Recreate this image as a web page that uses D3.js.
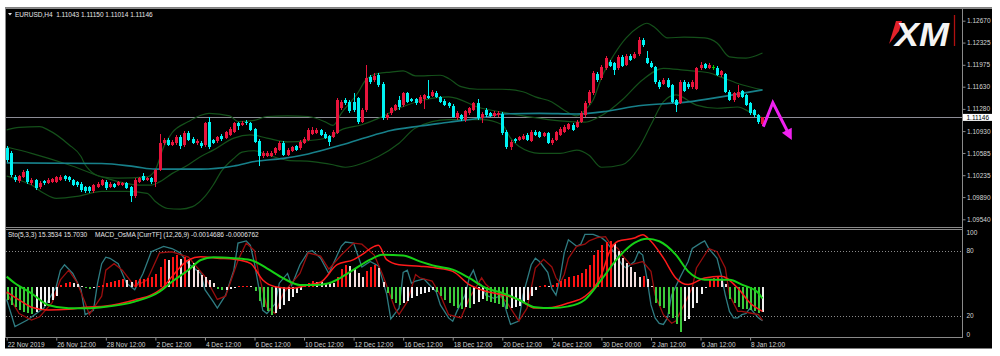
<!DOCTYPE html>
<html><head><meta charset="utf-8">
<script src="https://cdn.jsdelivr.net/npm/d3@7"></script>
<style>html,body{margin:0;padding:0;background:#fff;}svg{display:block;}</style>
</head><body><svg id="c" width="1000" height="356"></svg>
<script>
// ---------------- DATA ----------------
const symbolTitle = "EURUSD,H4  1.11043 1.11150 1.11014 1.11146";
const lastPrice = 1.11146;
const opens = [1.1066,1.1059,1.1021,1.1014,1.1021,1.1030,1.1011,1.1016,1.1005,1.1014,
1.1011,1.1013,1.1013,1.1016,1.1022,1.1020,1.1016,1.1013,1.1010,1.1005,
1.1005,1.0999,1.1005,1.1008,1.1013,1.1005,1.1009,1.1008,1.1008,1.1011,
1.1005,1.0990,1.1013,1.1022,1.1016,1.1019,1.1013,1.1032,1.1074,1.1079,
1.1071,1.1074,1.1084,1.1071,1.1090,1.1081,1.1074,1.1075,1.1071,1.1108,
1.1079,1.1078,1.1086,1.1082,1.1087,1.1092,1.1105,1.1103,1.1108,1.1106,
1.1096,1.1078,1.1053,1.1054,1.1054,1.1058,1.1063,1.1075,1.1055,1.1062,
1.1069,1.1066,1.1075,1.1079,1.1089,1.1090,1.1095,1.1089,1.1085,1.1084,
1.1090,1.1129,1.1142,1.1139,1.1139,1.1145,1.1108,1.1126,1.1178,1.1174,
1.1181,1.1168,1.1113,1.1122,1.1127,1.1142,1.1134,1.1153,1.1143,1.1143,
1.1138,1.1143,1.1149,1.1148,1.1153,1.1147,1.1141,1.1137,1.1133,1.1114,
1.1118,1.1111,1.1121,1.1127,1.1137,1.1114,1.1126,1.1121,1.1117,1.1118,
1.1120,1.1092,1.1068,1.1080,1.1079,1.1081,1.1087,1.1078,1.1092,1.1091,
1.1086,1.1090,1.1074,1.1079,1.1087,1.1092,1.1097,1.1103,1.1100,1.1108,
1.1118,1.1137,1.1153,1.1183,1.1176,1.1192,1.1202,1.1200,1.1192,1.1210,
1.1197,1.1212,1.1208,1.1214,1.1237,1.1209,1.1201,1.1194,1.1171,1.1168,
1.1174,1.1166,1.1142,1.1138,1.1171,1.1168,1.1163,1.1160,1.1192,1.1198,
1.1193,1.1194,1.1193,1.1182,1.1183,1.1155,1.1142,1.1147,1.1156,1.1150,
1.1137,1.1126,1.1118,1.11043];
const highs = [1.1069,1.1061,1.1024,1.1024,1.1031,1.1033,1.1019,1.1018,1.1014,1.1016,
1.1019,1.1019,1.1023,1.1024,1.1024,1.1022,1.1018,1.1015,1.1012,1.1007,
1.1007,1.1010,1.1012,1.1018,1.1016,1.1012,1.1011,1.1014,1.1013,1.1013,
1.1007,1.1019,1.1021,1.1027,1.1021,1.1021,1.1034,1.1089,1.1082,1.1082,
1.1079,1.1087,1.1087,1.1093,1.1093,1.1083,1.1080,1.1078,1.1108,1.1115,
1.1081,1.1086,1.1088,1.1093,1.1100,1.1108,1.1107,1.1109,1.1110,1.1108,
1.1098,1.1080,1.1061,1.1061,1.1061,1.1068,1.1078,1.1078,1.1066,1.1070,
1.1071,1.1079,1.1083,1.1098,1.1100,1.1098,1.1097,1.1091,1.1087,1.1095,
1.1145,1.1142,1.1145,1.1142,1.1153,1.1147,1.1129,1.1197,1.1181,1.1184,
1.1184,1.1171,1.1121,1.1131,1.1136,1.1148,1.1155,1.1155,1.1145,1.1145,
1.1150,1.1152,1.1174,1.1158,1.1156,1.1149,1.1143,1.1139,1.1135,1.1124,
1.1120,1.1126,1.1131,1.1139,1.1144,1.1123,1.1129,1.1123,1.1124,1.1125,
1.1123,1.1094,1.1079,1.1082,1.1086,1.1089,1.1090,1.1095,1.1094,1.1093,
1.1092,1.1092,1.1082,1.1093,1.1100,1.1102,1.1106,1.1105,1.1110,1.1124,
1.1141,1.1157,1.1187,1.1186,1.1197,1.1212,1.1205,1.1202,1.1213,1.1213,
1.1215,1.1214,1.1217,1.1242,1.1240,1.1220,1.1203,1.1196,1.1173,1.1176,
1.1176,1.1168,1.1144,1.1173,1.1173,1.1170,1.1173,1.1194,1.1202,1.1201,
1.1200,1.1197,1.1196,1.1190,1.1185,1.1157,1.1155,1.1166,1.1158,1.1152,
1.1139,1.1128,1.1120,1.11150];
const lows = [1.1044,1.1021,1.1013,1.1011,1.1019,1.1010,1.1008,1.1000,1.1002,1.1008,
1.1009,1.1011,1.1011,1.1014,1.1015,1.1013,1.1006,1.1005,1.0997,1.0996,
1.0995,1.0996,1.1003,1.1006,1.1000,1.1003,1.1003,1.1006,1.1006,1.1001,
1.0981,1.0987,1.1011,1.1014,1.1014,1.1010,1.1005,1.1030,1.1071,1.1069,
1.1069,1.1071,1.1065,1.1068,1.1077,1.1073,1.1071,1.1067,1.1068,1.1065,
1.1072,1.1075,1.1078,1.1080,1.1085,1.1090,1.1095,1.1101,1.1103,1.1093,
1.1074,1.1038,1.1050,1.1052,1.1052,1.1056,1.1061,1.1053,1.1053,1.1060,
1.1062,1.1064,1.1073,1.1077,1.1087,1.1088,1.1085,1.1080,1.1069,1.1082,
1.1088,1.1126,1.1134,1.1122,1.1123,1.1104,1.1105,1.1123,1.1168,1.1171,
1.1163,1.1110,1.1110,1.1119,1.1125,1.1126,1.1131,1.1137,1.1139,1.1134,
1.1136,1.1128,1.1143,1.1146,1.1145,1.1137,1.1132,1.1129,1.1113,1.1111,
1.1109,1.1108,1.1119,1.1125,1.1110,1.1105,1.1116,1.1115,1.1115,1.1116,
1.1087,1.1065,1.1064,1.1074,1.1077,1.1079,1.1077,1.1076,1.1085,1.1082,
1.1084,1.1072,1.1071,1.1077,1.1085,1.1090,1.1095,1.1093,1.1098,1.1105,
1.1116,1.1134,1.1150,1.1171,1.1173,1.1190,1.1194,1.1181,1.1189,1.1194,
1.1195,1.1203,1.1206,1.1212,1.1226,1.1199,1.1192,1.1168,1.1160,1.1166,
1.1161,1.1137,1.1123,1.1135,1.1154,1.1160,1.1160,1.1158,1.1190,1.1191,
1.1191,1.1190,1.1180,1.1179,1.1153,1.1140,1.1139,1.1145,1.1145,1.1132,
1.1118,1.1116,1.1104,1.11014];
const closes = [1.1047,1.1024,1.1016,1.1022,1.1029,1.1013,1.1016,1.1003,1.1011,1.1011,
1.1016,1.1017,1.1021,1.1020,1.1017,1.1016,1.1008,1.1008,1.1000,1.0999,
1.0998,1.1008,1.1009,1.1016,1.1003,1.1010,1.1005,1.1012,1.1011,1.1003,
1.0990,1.1016,1.1019,1.1016,1.1019,1.1012,1.1032,1.1074,1.1079,1.1071,
1.1076,1.1084,1.1069,1.1090,1.1079,1.1075,1.1078,1.1069,1.1105,1.1068,
1.1075,1.1083,1.1081,1.1091,1.1097,1.1105,1.1101,1.1106,1.1105,1.1095,
1.1076,1.1053,1.1059,1.1058,1.1059,1.1066,1.1075,1.1055,1.1064,1.1068,
1.1064,1.1076,1.1081,1.1095,1.1095,1.1095,1.1087,1.1082,1.1076,1.1092,
1.1142,1.1139,1.1137,1.1125,1.1126,1.1108,1.1126,1.1176,1.1171,1.1180,
1.1166,1.1113,1.1118,1.1129,1.1134,1.1131,1.1153,1.1139,1.1141,1.1137,
1.1147,1.1150,1.1145,1.1155,1.1147,1.1139,1.1134,1.1132,1.1116,1.1121,
1.1112,1.1124,1.1129,1.1137,1.1113,1.1120,1.1118,1.1117,1.1121,1.1122,
1.1090,1.1068,1.1076,1.1077,1.1083,1.1086,1.1079,1.1092,1.1087,1.1084,
1.1090,1.1074,1.1079,1.1091,1.1097,1.1100,1.1104,1.1095,1.1108,1.1121,
1.1138,1.1154,1.1184,1.1174,1.1194,1.1209,1.1196,1.1189,1.1210,1.1196,
1.1212,1.1205,1.1214,1.1237,1.1228,1.1201,1.1194,1.1171,1.1163,1.1174,
1.1163,1.1139,1.1134,1.1171,1.1156,1.1163,1.1171,1.1192,1.1197,1.1193,
1.1197,1.1194,1.1182,1.1187,1.1155,1.1142,1.1153,1.1155,1.1147,1.1134,
1.1121,1.1118,1.1108,1.11146];

// Bollinger bands and moving average: [bar index, price] read at sample bars
const bbUpper = [[0,1.1095],[3,1.1099],[8,1.1100],[10,1.1095],[15,1.1072],[18,1.1053],[19,1.1040],[20,1.1032],[23,1.1021],[27,1.1019],[34,1.1021],[36,1.1032],[38,1.1068],[40,1.1090],[44,1.1108],[47,1.1118],[49,1.1121],[54,1.1117],[56,1.1108],[60,1.1110],[63,1.1116],[68,1.1117],[73,1.1116],[77,1.1108],[79,1.1102],[81,1.1121],[85,1.1153],[87,1.1174],[90,1.1184],[93,1.1186],[96,1.1188],[99,1.1180],[105,1.1181],[107,1.1176],[110,1.1163],[114,1.1159],[120,1.1159],[125,1.1155],[128,1.1147],[132,1.1139],[135,1.1126],[138,1.1117],[140,1.1126],[142,1.1142],[144,1.1177],[147,1.1213],[150,1.1240],[153,1.1257],[155,1.1263],[157,1.1256],[160,1.1240],[164,1.1241],[169,1.1240],[172,1.1232],[175,1.1210],[179,1.1208],[183,1.1216]];
const bbMiddle = [[0,1.1068],[6,1.1058],[15,1.1040],[23,1.1021],[32,1.1008],[35,1.1008],[37,1.1013],[40,1.1026],[44,1.1040],[47,1.1053],[50,1.1063],[55,1.1082],[59,1.1087],[63,1.1082],[68,1.1076],[73,1.1078],[78,1.1083],[81,1.1095],[86,1.1103],[90,1.1113],[95,1.1129],[101,1.1142],[107,1.1147],[115,1.1129],[120,1.1123],[127,1.1115],[134,1.1109],[140,1.1107],[143,1.1114],[146,1.1126],[149,1.1142],[154,1.1174],[159,1.1192],[164,1.1189],[170,1.1185],[173,1.1178],[178,1.1166],[183,1.1158]];
const bbLower = [[0,1.1022],[3,1.1016],[6,1.1008],[9,1.0995],[12,1.0987],[17,1.0990],[23,1.0998],[29,1.0998],[34,1.0995],[36,1.0982],[39,1.0971],[42,1.0970],[45,1.0974],[48,1.0990],[50,1.1008],[52,1.1030],[55,1.1050],[57,1.1060],[60,1.1062],[63,1.1056],[68,1.1047],[74,1.1045],[79,1.1040],[82,1.1036],[86,1.1042],[90,1.1053],[95,1.1074],[99,1.1098],[107,1.1111],[115,1.1111],[120,1.1103],[122,1.1082],[124,1.1069],[129,1.1058],[134,1.1058],[138,1.1063],[141,1.1055],[144,1.1036],[149,1.1040],[153,1.1066],[156,1.1103],[159,1.1139],[162,1.1150],[167,1.1134],[172,1.1129],[177,1.1131],[180,1.1123],[183,1.1114]];
const maLine = [[0,1.1043],[23,1.1042],[31,1.1037],[36,1.1033],[47,1.1033],[55,1.1038],[60,1.1045],[67,1.1050],[73,1.1057],[81,1.1071],[89,1.1087],[93,1.1094],[100,1.1101],[107,1.1107],[115,1.1114],[120,1.1120],[129,1.1121],[138,1.1120],[145,1.1124],[153,1.1133],[165,1.1139],[173,1.1147],[183,1.1158]];

// Stochastic (5,3,3): [bar index, value]
const stochMain = [[0,35],[2,10],[5,16],[9,27],[12,47],[13,62],[14,67],[16,59],[18,44],[19,21],[21,25],[22,50],[23,68],[24,74],[25,73],[27,68],[29,50],[31,44],[33,59],[35,79],[38,84],[40,82],[42,78],[44,68],[47,59],[48,44],[50,33],[51,27],[53,39],[55,62],[56,87],[58,89],[59,85],[60,68],[61,47],[62,25],[63,22],[65,31],[66,50],[68,59],[69,48],[71,67],[73,79],[74,80],[76,73],[78,59],[81,84],[82,88],[84,87],[86,65],[88,70],[90,66],[92,40],[93,17],[95,27],[96,60],[97,62],[98,50],[99,52],[101,54],[102,50],[104,42],[105,30],[107,18],[108,15],[109,24],[111,39],[112,55],[113,62],[114,51],[115,48],[116,39],[118,36],[120,39],[121,24],[122,12],[124,15],[125,39],[127,67],[128,73],[129,70],[131,60],[132,45],[133,39],[134,55],[135,78],[136,90],[138,84],[139,86],[140,95],[142,95],[144,92],[145,89],[147,79],[148,73],[149,67],[150,64],[152,70],[153,79],[154,76],[155,55],[156,30],[157,18],[158,13],[159,12],[160,18],[161,39],[163,55],[165,70],[166,82],[168,87],[169,89],[170,82],[172,73],[173,58],[174,39],[175,24],[176,18],[177,18],[178,21],[179,22],[180,27],[182,18],[183,15.3534]];
const stochSignal = [[0,41],[3,22],[6,16],[8,19],[11,32],[13,53],[15,62],[17,51],[19,32],[20,21],[23,38],[24,62],[26,68],[28,62],[31,47],[34,53],[37,78],[40,79],[44,74],[46,65],[48,56],[51,35],[53,38],[56,71],[58,87],[60,80],[61,59],[63,28],[65,22],[67,41],[69,50],[71,59],[73,78],[76,75],[78,63],[81,76],[84,87],[86,86],[89,76],[91,58],[94,27],[95,21],[97,33],[99,58],[100,55],[103,52],[105,39],[107,21],[110,18],[112,36],[115,55],[116,49],[119,39],[121,33],[123,21],[124,15],[126,27],[128,64],[130,72],[132,65],[133,55],[134,50],[135,58],[136,73],[138,84],[140,86],[141,89],[143,92],[145,93],[146,87],[148,82],[149,76],[151,67],[153,69],[154,70],[156,61],[157,39],[159,21],[161,13],[162,15],[164,30],[166,46],[167,64],[169,76],[170,82],[172,79],[174,64],[175,39],[177,24],[178,24],[180,22.5],[182,21],[183,15.703]];

// MACD_OsMA (12,26,9): histogram per bar, plus two lines [bar index, value]
const macdHist = [-0.00076,-0.00106,-0.00118,-0.00135,-0.00147,-0.00153,-0.00159,-0.00147,-0.00129,-0.00112,
-0.00094,-0.00076,-0.00053,0.00012,0.00024,0.00029,0.00024,0.00018,0.00006,-0.00006,
-0.00012,-0.00006,0.00006,0.00012,0.00024,0.00029,0.00035,0.00041,0.00047,0.00041,
0.00029,0.00041,0.00047,0.00050,0.00053,0.00059,0.00076,0.00118,0.00165,0.00159,
0.00176,0.00188,0.00165,0.00176,0.00165,0.00141,0.00100,0.00071,0.00059,0.00041,
0.00024,-0.00012,-0.00018,-0.00015,-0.00012,-0.00006,0.00003,0.00006,0.00007,0.00003,
-0.00024,-0.00082,-0.00118,-0.00141,-0.00165,-0.00153,-0.00129,-0.00106,-0.00082,-0.00059,
-0.00035,-0.00018,0.00006,0.00024,0.00035,0.00032,0.00029,0.00026,0.00024,0.00021,
0.00059,0.00106,0.00129,0.00123,0.00106,0.00082,0.00059,0.00094,0.00118,0.00129,
0.00112,0.00029,-0.00035,-0.00071,-0.00094,-0.00106,-0.00094,-0.00082,-0.00065,-0.00053,
-0.00041,-0.00035,-0.00029,-0.00018,-0.00029,-0.00053,-0.00076,-0.00094,-0.00112,-0.00123,
-0.00129,-0.00118,-0.00123,-0.00100,-0.00088,-0.00071,-0.00082,-0.00088,-0.00094,-0.00100,
-0.00118,-0.00129,-0.00123,-0.00118,-0.00112,-0.00094,-0.00076,-0.00053,-0.00018,0.00006,
0.00012,0.00006,0.00012,0.00024,0.00035,0.00047,0.00059,0.00065,0.00071,0.00082,
0.00106,0.00129,0.00188,0.00218,0.00247,0.00265,0.00270,0.00259,0.00212,0.00171,
0.00141,0.00118,0.00088,0.00059,0.00065,0.00047,0.00006,-0.00094,-0.00112,-0.00123,
-0.00159,-0.00182,-0.00218,-0.00265,-0.00200,-0.00188,-0.00123,-0.00094,-0.00041,-0.00006,
0.00047,0.00053,0.00056,0.00041,0.00018,-0.00071,-0.00094,-0.00118,-0.00129,-0.00132,
-0.00135,-0.00141,-0.00153,-0.0014686];
const macdLine = [[0,-0.00028],[3,-0.00076],[6,-0.00119],[10,-0.00135],[15,-0.00131],[19,-0.00119],[24,-0.00112],[31,-0.00076],[35,-0.00047],[38,0.00002],[40,0.00061],[44,0.00159],[47,0.00178],[51,0.00169],[55,0.00163],[59,0.00139],[62,0.00041],[65,0.00002],[69,-0.00008],[73,0.00012],[76,0.00028],[80,0.00131],[84,0.00161],[86,0.00190],[89,0.00239],[90,0.00245],[92,0.00161],[95,0.00131],[100,0.00122],[104,0.00112],[108,0.00092],[112,0.00014],[116,-0.00025],[120,-0.00045],[124,-0.00075],[128,-0.00124],[132,-0.00120],[136,-0.00094],[140,-0.00055],[144,0.00072],[146,0.00210],[148,0.00269],[152,0.00288],[154,0.00308],[156,0.00269],[159,0.00171],[162,0.00053],[165,0.00014],[169,0.00053],[173,0.00063],[177,-0.00006],[180,-0.00094],[183,-0.00143]];
const macdSignal = [[0,0.00061],[2,0.00022],[6,-0.00037],[10,-0.00106],[15,-0.00125],[19,-0.00125],[24,-0.00116],[31,-0.00086],[37,-0.00028],[40,0.00031],[44,0.00100],[47,0.00159],[50,0.00175],[55,0.00169],[59,0.00159],[63,0.00110],[67,0.00051],[71,0.00012],[75,0.00012],[78,0.00022],[80,0.00043],[84,0.00102],[88,0.00161],[91,0.00190],[96,0.00186],[100,0.00151],[104,0.00122],[108,0.00102],[112,0.00053],[116,-0.00006],[120,-0.00035],[124,-0.00075],[128,-0.00119],[132,-0.00124],[136,-0.00114],[140,-0.00075],[144,0.00043],[148,0.00171],[152,0.00259],[155,0.00284],[158,0.00269],[162,0.00190],[165,0.00092],[169,0.00043],[172,0.00043],[175,0.00043],[178,0.00014],[182,-0.00035],[183,-0.00068]];

// axes
const priceTicks = [1.12670,1.12325,1.11975,1.11630,1.11280,1.10930,1.10585,1.10235,1.09890,1.09540];
const stochTicks = [100,80,20,0];
const stochLevels = [80,20];
const timeTickBars = [0,12,24,36,48,60,72,84,96,108,120,132,144,156,168,180];
const timeLabels = ["22 Nov 2019","26 Nov 12:00","28 Nov 12:00","2 Dec 12:00","4 Dec 12:00","6 Dec 12:00","10 Dec 12:00","12 Dec 12:00","16 Dec 12:00","18 Dec 12:00","20 Dec 12:00","24 Dec 12:00","30 Dec 00:00","2 Jan 12:00","6 Jan 12:00","8 Jan 12:00"];
const stochLabel = "Sto(5,3,3) 15.3534 15.7030";
const macdLabel = "MACD_OsMA [CurrTF] (12,26,9) -0.0014686 -0.0006762";
// drawn annotation arrow: bar index / price
const arrowBars = [183.2, 185.5, 190.1];
const arrowPrices = [1.1100, 1.1138, 1.1079];

// ---------------- DRAWING ----------------
const FONT = "'Liberation Sans', Arial, sans-serif";
const svg = d3.select('#c');
const FRAME = '#8a8a8a';
const L = 5.5, R = 962.5, T = 8, P1B = 227.5, P2T = 229.5, P2B = 337.5;

const x = d3.scaleLinear().domain([0, 183]).range([6.7, 6.7 + 183 * 4.13]);
const yP = d3.scaleLinear().domain([1.09540, 1.12670]).range([219.3, 20.7]);
const yS = d3.scaleLinear().domain([0, 100]).range([337.4, 229]);
const yM = d3.scaleLinear().domain([-0.003, 0.003]).range([287 + 51, 287 - 51]);

svg.append('rect').attr('x', 5).attr('y', 7.5).attr('width', 987).attr('height', 341).attr('fill', '#000');

const defs = svg.append('defs');
defs.append('clipPath').attr('id', 'cp1').append('rect').attr('x', 6).attr('y', 8.5).attr('width', R - 6.5).attr('height', P1B - 9);
defs.append('clipPath').attr('id', 'cp2').append('rect').attr('x', 6).attr('y', P2T + 0.5).attr('width', R - 6.5).attr('height', P2B - P2T - 1);

// ---- price pane ----
const p1 = svg.append('g').attr('clip-path', 'url(#cp1)');
const lineP = d3.line().x(d => x(d[0])).y(d => yP(d[1])).curve(d3.curveMonotoneX);
p1.append('line').attr('x1', 6).attr('x2', R).attr('y1', Math.round(yP(lastPrice)) + 0.5).attr('y2', Math.round(yP(lastPrice)) + 0.5)
  .attr('stroke', '#8c8c96').attr('stroke-width', 1);
[bbUpper, bbMiddle, bbLower].forEach(s => p1.append('path').attr('d', lineP(s)).attr('fill', 'none').attr('stroke', '#14501a').attr('stroke-width', 1.2));
p1.append('path').attr('d', lineP(maLine)).attr('fill', 'none').attr('stroke', '#17808a').attr('stroke-width', 1.6);

const candles = d3.range(opens.length).map(i => ({i, o: opens[i], h: highs[i], l: lows[i], c: closes[i]}));
const col = d => d.c > d.o ? '#e8143c' : (d.c < d.o ? '#00f2f2' : '#00d000');
const cg = p1.append('g').attr('shape-rendering', 'crispEdges');
cg.selectAll('line.w').data(candles).join('line').attr('class', 'w')
  .attr('x1', d => Math.round(x(d.i)) + 0.5).attr('x2', d => Math.round(x(d.i)) + 0.5)
  .attr('y1', d => yP(d.h)).attr('y2', d => yP(d.l)).attr('stroke', col).attr('stroke-width', 1);
cg.selectAll('rect.b').data(candles).join('rect').attr('class', 'b')
  .attr('x', d => Math.round(x(d.i)) - 1).attr('width', 3)
  .attr('y', d => yP(Math.max(d.o, d.c)))
  .attr('height', d => Math.max(1, Math.abs(yP(d.o) - yP(d.c))))
  .attr('fill', col);

// magenta arrow annotation
const ap = arrowBars.map((b, k) => [x(b), yP(arrowPrices[k])]);
p1.append('path').attr('d', d3.line()(ap.slice(0, 2).concat([[ap[2][0] - 3, ap[2][1] - 6]]))).attr('fill', 'none')
  .attr('stroke', '#f020f0').attr('stroke-width', 3).attr('stroke-linejoin', 'miter').attr('stroke-miterlimit', 10);
{
  const [px, py] = ap[1], [ex, ey] = ap[2];
  const ang = Math.atan2(ey - py, ex - px), hl = 11, hw = 5.5;
  const bx = ex - hl * Math.cos(ang), by = ey - hl * Math.sin(ang);
  const nx = -Math.sin(ang) * hw, ny = Math.cos(ang) * hw;
  p1.append('polygon').attr('points', [[ex, ey], [bx + nx, by + ny], [bx - nx, by - ny]].map(p => p.join(',')).join(' ')).attr('fill', '#f020f0');
}

// XM logo
svg.append('polygon').attr('points', '889,44 896,21 902,21 899,31').attr('fill', '#e3222a');
svg.append('text').attr('x', 895).attr('y', 45.5).text('XM').attr('font-family', FONT).attr('font-weight', 'bold')
  .attr('font-style', 'italic').attr('font-size', 33).attr('fill', '#f4f4f4').attr('textLength', 54).attr('lengthAdjust', 'spacingAndGlyphs');
svg.append('line').attr('x1', 954.5).attr('x2', 954.5).attr('y1', 15).attr('y2', 46).attr('stroke', '#b01010').attr('stroke-width', 1.3);

// title
svg.append('path').attr('d', 'M8,13 L12,13 L10,15.5 Z').attr('fill', '#e6e6e6');
svg.append('text').attr('x', 15).attr('y', 16.5).text(symbolTitle).attr('font-family', FONT).attr('font-size', 6.5)
  .attr('fill', '#e6e6e6').style('white-space', 'pre');

// ---- indicator pane ----
const p2 = svg.append('g').attr('clip-path', 'url(#cp2)');
stochLevels.forEach(v => p2.append('line').attr('x1', 6).attr('x2', R).attr('y1', Math.round(yS(v)) + 0.5).attr('y2', Math.round(yS(v)) + 0.5)
  .attr('stroke', '#8a8a8a').attr('stroke-dasharray', '1,2'));
const lineS = d3.line().x(d => x(d[0])).y(d => yS(d[1]));
p2.append('path').attr('d', lineS(stochMain)).attr('fill', 'none').attr('stroke', '#2f7c82').attr('stroke-width', 1.3);
p2.append('path').attr('d', lineS(stochSignal)).attr('fill', 'none').attr('stroke', '#9a0e0e').attr('stroke-width', 1.3);

const hist = macdHist.map((v, i) => ({i, v, p: i > 0 ? macdHist[i - 1] : v}));
const hcol = d => d.v >= 0 ? (d.v >= d.p ? '#ff1414' : '#f3dede') : (d.v <= d.p ? '#3ccb3c' : '#f0f0f0');
p2.append('g').attr('shape-rendering', 'crispEdges').selectAll('rect').data(hist).join('rect')
  .attr('x', d => Math.round(x(d.i)) - 0.5).attr('width', 2)
  .attr('y', d => Math.min(yM(0), yM(d.v))).attr('height', d => Math.max(1, Math.abs(yM(d.v) - yM(0))))
  .attr('fill', hcol);
const lineM = d3.line().x(d => x(d[0])).y(d => yM(d[1])).curve(d3.curveMonotoneX);
p2.append('path').attr('d', lineM(macdLine)).attr('fill', 'none').attr('stroke', '#ff1a1a').attr('stroke-width', 1.5);
p2.append('path').attr('d', lineM(macdSignal)).attr('fill', 'none').attr('stroke', '#16d016').attr('stroke-width', 2);

svg.append('text').attr('x', 8).attr('y', 236.5).text(stochLabel).attr('font-family', FONT).attr('font-size', 6.5).attr('fill', '#e6e6e6');
svg.append('text').attr('x', 95).attr('y', 236.5).text(macdLabel).attr('font-family', FONT).attr('font-size', 6.5).attr('fill', '#e6e6e6');

// ---- frame ----
const fr = svg.append('g').attr('stroke', FRAME).attr('stroke-width', 1).attr('shape-rendering', 'crispEdges');
fr.append('line').attr('x1', 5).attr('x2', 992).attr('y1', T).attr('y2', T);
fr.append('line').attr('x1', L).attr('x2', L).attr('y1', T).attr('y2', P2B);
fr.append('line').attr('x1', R).attr('x2', R).attr('y1', T).attr('y2', P2B);
fr.append('line').attr('x1', L).attr('x2', R).attr('y1', P1B).attr('y2', P1B);
fr.append('line').attr('x1', L).attr('x2', R).attr('y1', P2T).attr('y2', P2T);
fr.append('line').attr('x1', L).attr('x2', R).attr('y1', P2B).attr('y2', P2B);

// ---- axes ----
const gP = svg.append('g').attr('transform', `translate(${R},0)`)
  .call(d3.axisRight(yP).tickValues(priceTicks).tickFormat(d3.format('.5f')).tickSize(3).tickPadding(1.5));
gP.select('.domain').remove();
gP.attr('font-family', FONT).attr('font-size', 6.5).attr('color', '#d4d4d4');
gP.selectAll('line').attr('stroke', FRAME);

// current price box
svg.append('rect').attr('x', R + 0.5).attr('y', yP(lastPrice) - 3.5).attr('width', 29).attr('height', 7).attr('fill', '#fff');
svg.append('text').attr('x', R + 4).attr('y', yP(lastPrice)).attr('dy', '0.34em').text(d3.format('.5f')(lastPrice))
  .attr('font-family', FONT).attr('font-size', 6.5).attr('fill', '#000');

const gS = svg.append('g').attr('transform', `translate(${R},0)`)
  .call(d3.axisRight(yS).tickValues(stochTicks).tickFormat(d3.format('d')).tickSize(0).tickPadding(4));
gS.select('.domain').remove();
gS.attr('font-family', FONT).attr('font-size', 6.5).attr('color', '#d4d4d4');
gS.selectAll('text').attr('y', d => d === 100 ? 3.6 : (d === 0 ? -3.4 : 0));

const gT = svg.append('g').attr('transform', `translate(0,${P2B})`)
  .call(d3.axisBottom(x).tickValues(timeTickBars).tickFormat((d, k) => timeLabels[k]).tickSize(3).tickPadding(1.5));
gT.select('.domain').remove();
gT.attr('font-family', FONT).attr('font-size', 6.5).attr('color', '#d4d4d4');
gT.selectAll('line').attr('stroke', FRAME);
gT.selectAll('text').attr('text-anchor', 'start').attr('x', 0.5);
</script></body></html>
